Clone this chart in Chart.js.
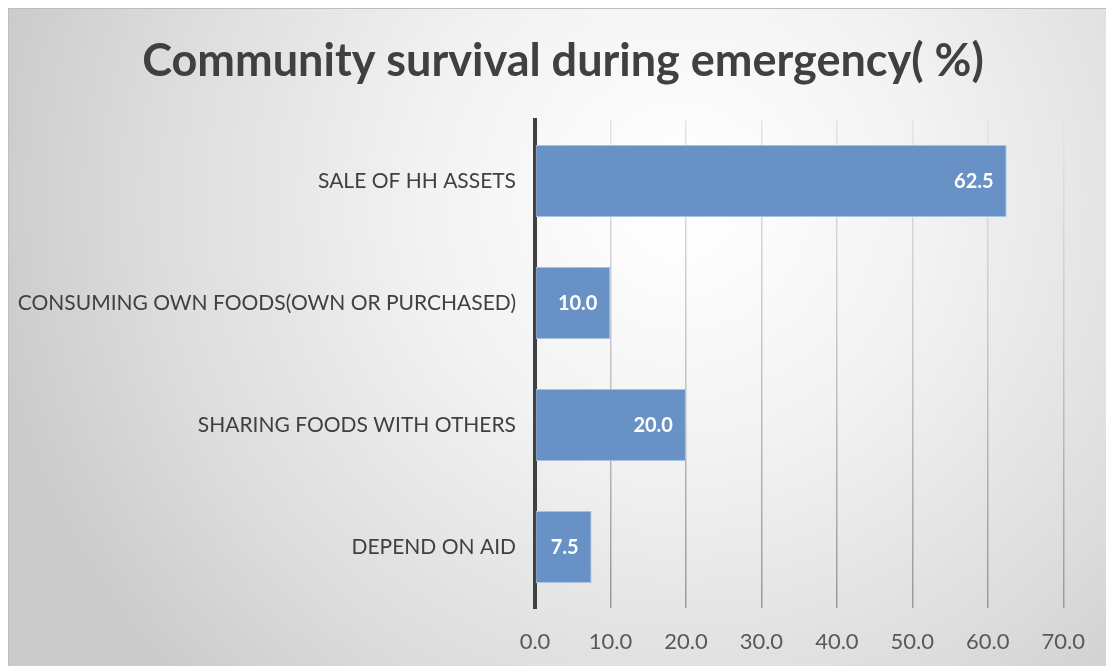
<!DOCTYPE html>
<html>
<head>
<meta charset="utf-8">
<script src="https://cdn.jsdelivr.net/npm/chart.js@4/dist/chart.umd.min.js"></script>
<style>
  html, body { margin: 0; padding: 0; background: #fff; }
  #wrap { width: 1106px; height: 666px; position: relative; }
</style>
</head>
<body>
<div id="wrap"><canvas id="survival"></canvas></div>
<script>
const categories = [
  'SALE OF HH ASSETS',
  'CONSUMING OWN FOODS(OWN OR PURCHASED)',
  'SHARING FOODS WITH OTHERS',
  'DEPEND ON AID'
];
const percents = [62.5, 10.0, 20.0, 7.5];
const tickValues = [0, 10, 20, 30, 40, 50, 60, 70];
const chartTitle = 'Community survival during emergency( %)';

// grey panel behind the chart, lighter in the middle
const panelBg = {
  id: 'panelBg',
  beforeDraw(chart) {
    const ctx = chart.ctx;
    const w = chart.width, h = chart.height;
    ctx.save();
    const g = ctx.createRadialGradient(680, 200, 20, 680, 200, 700);
    g.addColorStop(0, '#ffffff');
    g.addColorStop(0.35, '#f2f2f2');
    g.addColorStop(0.75, '#dcdcdc');
    g.addColorStop(1, '#cbcbcb');
    ctx.fillStyle = g;
    ctx.fillRect(8, 8, w - 8, h - 8);
    ctx.strokeStyle = '#bdbdbd';
    ctx.lineWidth = 1;
    ctx.beginPath();
    ctx.moveTo(8.5, h);
    ctx.lineTo(8.5, 8.5);
    ctx.lineTo(w, 8.5);
    ctx.stroke();
    ctx.restore();
  }
};

// title, centred over the panel rather than the plot
const titleText = {
  id: 'titleText',
  afterDraw(chart) {
    const ctx = chart.ctx;
    ctx.save();
    ctx.font = 'bold 45px Lato';
    ctx.fillStyle = '#404040';
    ctx.textAlign = 'center';
    ctx.textBaseline = 'middle';
    ctx.fillText(chartTitle, 563, 61);
    ctx.restore();
  }
};

// value labels inside the end of each bar
const barValues = {
  id: 'barValues',
  afterDatasetsDraw(chart) {
    const ctx = chart.ctx;
    ctx.save();
    ctx.font = 'bold 20px Lato';
    ctx.fillStyle = '#ffffff';
    ctx.textAlign = 'right';
    ctx.textBaseline = 'middle';
    chart.getDatasetMeta(0).data.forEach((bar, i) => {
      ctx.fillText(percents[i].toFixed(1), bar.x - 13, bar.y + 1);
    });
    ctx.restore();
  }
};

// grid lines fade from light at the top to darker at the bottom
let gridGrad = null;
function gridColor(c) {
  const area = c.chart.chartArea;
  if (!area) return '#c4c4c4';
  if (!gridGrad) {
    gridGrad = c.chart.ctx.createLinearGradient(0, area.top, 0, area.bottom);
    gridGrad.addColorStop(0, '#e4e4e4');
    gridGrad.addColorStop(0.5, '#c4c4c4');
    gridGrad.addColorStop(1, '#9a9a9a');
  }
  return gridGrad;
}

new Chart(document.getElementById('survival'), {
  type: 'bar',
  data: {
    labels: categories,
    datasets: [{
      data: percents,
      backgroundColor: '#6891c6',
      borderColor: '#a9c1e3',
      borderWidth: 1,
      borderSkipped: false,
      barPercentage: 0.59,
      categoryPercentage: 1
    }]
  },
  options: {
    indexAxis: 'y',
    responsive: true,
    maintainAspectRatio: false,
    animation: false,
    layout: { padding: { top: 120, right: 40, left: 0, bottom: 0 } },
    plugins: {
      legend: { display: false },
      tooltip: { enabled: false },
      title: { display: false }
    },
    scales: {
      x: {
        min: 0,
        max: 70,
        afterBuildTicks(scale) {
          scale.ticks = tickValues.map(v => ({ value: v }));
        },
        afterFit(scale) { scale.height = 58; },
        border: { display: false },
        grid: { color: gridColor, lineWidth: 1.5, drawTicks: false },
        ticks: {
          padding: 21,
          color: '#595959',
          font: { family: 'Lato', size: 22 },
          callback: v => Number(v).toFixed(1)
        }
      },
      y: {
        afterFit(scale) { scale.width = 535; },
        border: { display: true, color: '#404040', width: 4 },
        grid: { display: false, drawTicks: false },
        ticks: {
          padding: 19,
          color: '#404040',
          font: { family: 'Lato', size: 21 }
        }
      }
    }
  },
  plugins: [panelBg, titleText, barValues]
});
</script>
</body>
</html>
